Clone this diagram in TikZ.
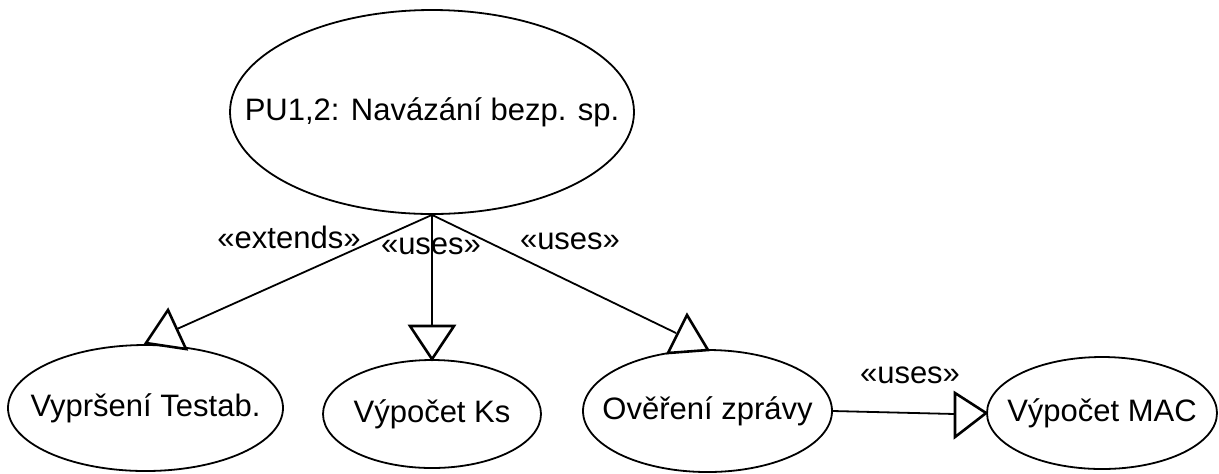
\documentclass[tikz,border=0pt]{standalone}
\usepackage{fontspec}
\setmainfont{Liberation Sans}
\usetikzlibrary{shapes.geometric}
\begin{document}
\begin{tikzpicture}[x=0.5pt,y=-0.5pt,
  txt/.style={font=\fontsize{15.5}{18}\selectfont},
  usecase/.style={draw, ellipse, line width=0.9pt, inner sep=0pt, txt},
  lbl/.style={txt, inner sep=0pt},
  link/.style={line width=0.9pt},
  head/.style={line width=1.3pt, line join=miter, fill=white}]
\useasboundingbox (0,0) rectangle (1219,473);

% use cases
\node[usecase, minimum width=202pt, minimum height=102pt] (pu) at (432,112)
  {\makebox[0pt]{PU1,2: Navázání bezp. sp.}};
\node[usecase, minimum width=137.5pt, minimum height=63pt] (vyp) at (145.5,408)
  {\makebox[0pt]{Vypršení Testab.}};
\node[usecase, minimum width=109pt, minimum height=54pt] (ks) at (432,414)
  {\makebox[0pt]{Výpočet Ks}};
\node[usecase, minimum width=124.5pt, minimum height=61pt] (ov) at (707.5,411)
  {\makebox[0pt]{Ověření zprávy}};
\node[usecase, minimum width=115pt, minimum height=56pt] (mac) at (1102,413)
  {\makebox[0pt]{Výpočet MAC}};

% connector end points on the hollow heads
\coordinate (h1) at (177,329);
\coordinate (h2) at (432,326);
\coordinate (h3) at (676,333);
\coordinate (h4) at (955,414);

% connectors
\draw[link] (pu.south) -- (h1);
\draw[link] (pu.south) -- (h2);
\draw[link] (pu.south) -- (h3);
\draw[link] (ov.east) -- (h4);

% hollow triangle heads
\draw[head] (146,343) -- (186,349) -- (168,310) -- cycle;
\draw[head] (410,326) -- (454,326) -- (ks.north) -- cycle;
\draw[head] (668,353) -- (708,350) -- (687,315) -- cycle;
\draw[head] (955,393) -- (955,437) -- (mac.west) -- cycle;

% stereotype labels
\node[lbl] (l1) at (289,237) {«extends»};
\node[lbl] (l2) at (431,246) {«uses»};
\node[lbl] (l3) at (570,241) {«uses»};
\node[lbl] (l4) at (910,375) {«uses»};
\end{tikzpicture}
\end{document}
